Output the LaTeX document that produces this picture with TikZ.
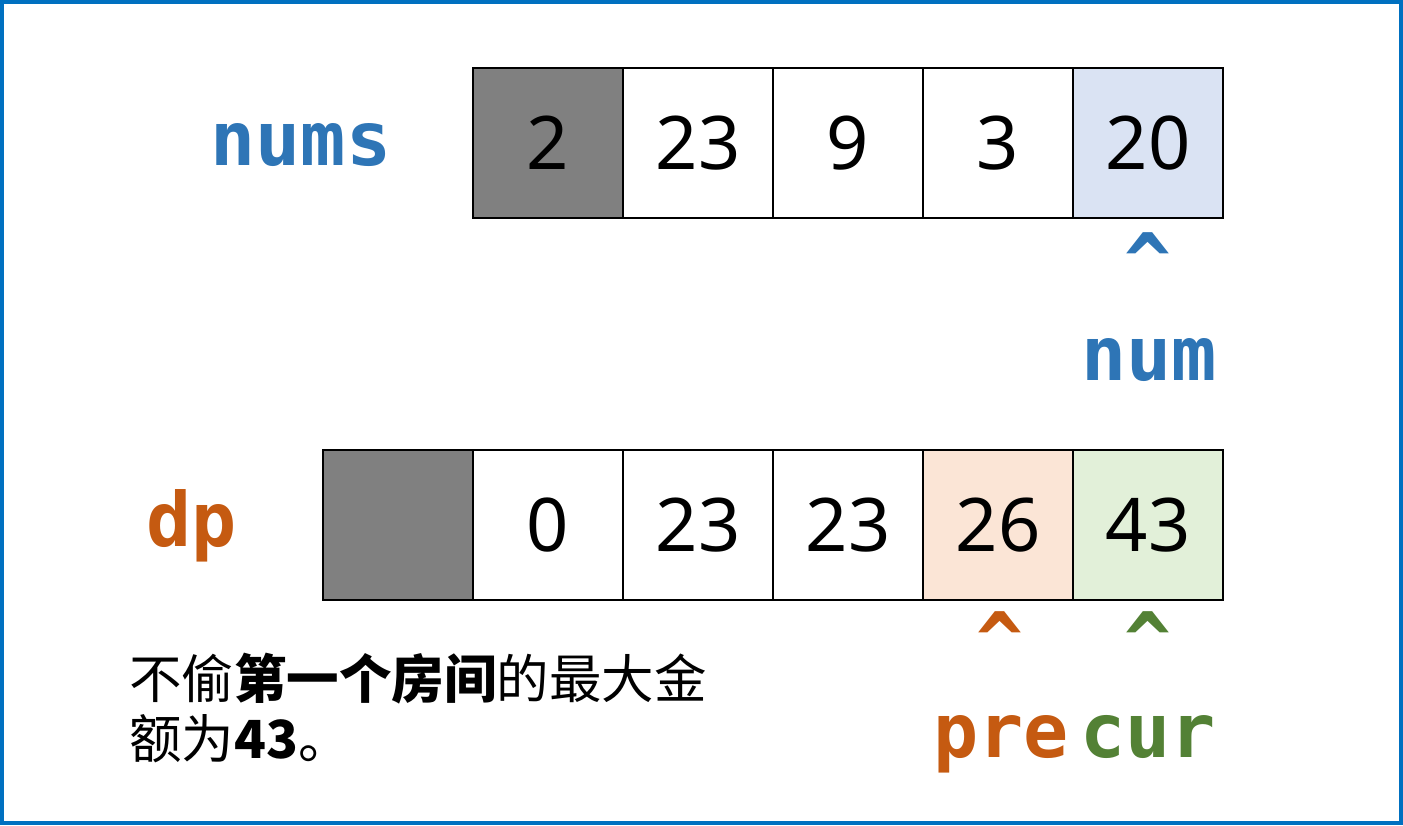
\documentclass[tikz,border=0pt]{standalone}
\usepackage{fontspec}
\setmainfont{Noto Sans}
\newfontfamily\monof{DejaVu Sans Mono}
\newfontfamily\cjkf{Noto Sans CJK SC}
\definecolor{cborder}{HTML}{0070C0}
\definecolor{cblue}{HTML}{2E75B6}
\definecolor{corange}{HTML}{C55A11}
\definecolor{cgreen}{HTML}{538135}
\definecolor{cgray}{HTML}{808080}
\definecolor{lblue}{HTML}{DAE3F3}
\definecolor{lorange}{HTML}{FBE5D6}
\definecolor{lgreen}{HTML}{E2F0D9}
\begin{document}
\begin{tikzpicture}[x=1pt,y=-1pt,
  cell/.style={draw=black,line width=1.5pt,minimum width=150pt,minimum height=150pt,inner sep=0pt,
    font=\fontsize{74}{80}\selectfont},
  lbl/.style={inner sep=0pt,anchor=base,font=\monof\bfseries\fontsize{75}{75}\selectfont},
  caret/.style={inner sep=0pt,anchor=base,font=\monof\bfseries\fontsize{78}{78}\selectfont},
  cjk/.style={inner sep=0pt,anchor=base west,font=\cjkf\fontsize{52.5}{56}\selectfont}]
\useasboundingbox (0,0) rectangle (1403,826);
\draw[cborder,line width=4pt] (2,2) rectangle (1401,823);
% nums row
\node[cell,fill=cgray] (n1) at (548,143) {2};
\node[cell] (n2) at (698,143) {23};
\node[cell] (n3) at (848,143) {9};
\node[cell] (n4) at (998,143) {3};
\node[cell,fill=lblue] (n5) at (1148,143) {20};
% dp row
\node[cell,fill=cgray] (d1) at (398,525) {};
\node[cell] (d2) at (548,525) {0};
\node[cell] (d3) at (698,525) {23};
\node[cell] (d4) at (848,525) {23};
\node[cell,fill=lorange] (d5) at (998,525) {26};
\node[cell,fill=lgreen] (d6) at (1148,525) {43};
% labels
\node[lbl,text=cblue] (lnums) at (301,166) {nums};
\node[lbl,text=corange] (ldp) at (192,546) {dp};
\node[caret,text=cblue] (c1) at (1148,290) {\textasciicircum};
\node[lbl,text=cblue] (lnum) at (1149,380) {num};
\node[caret,text=corange] (c2) at (1000,668) {\textasciicircum};
\node[caret,text=cgreen] (c3) at (1148,668) {\textasciicircum};
\node[lbl,text=corange] (lpre) at (1001,757) {pre};
\node[lbl,text=cgreen] (lcur) at (1148,757) {cur};
% text
\node[cjk] (t1) at (129,698) {不偷\textbf{第一个房间}的最大金};
\node[cjk] (t2) at (129,758) {额为\textbf{43}。};
\end{tikzpicture}
\end{document}
